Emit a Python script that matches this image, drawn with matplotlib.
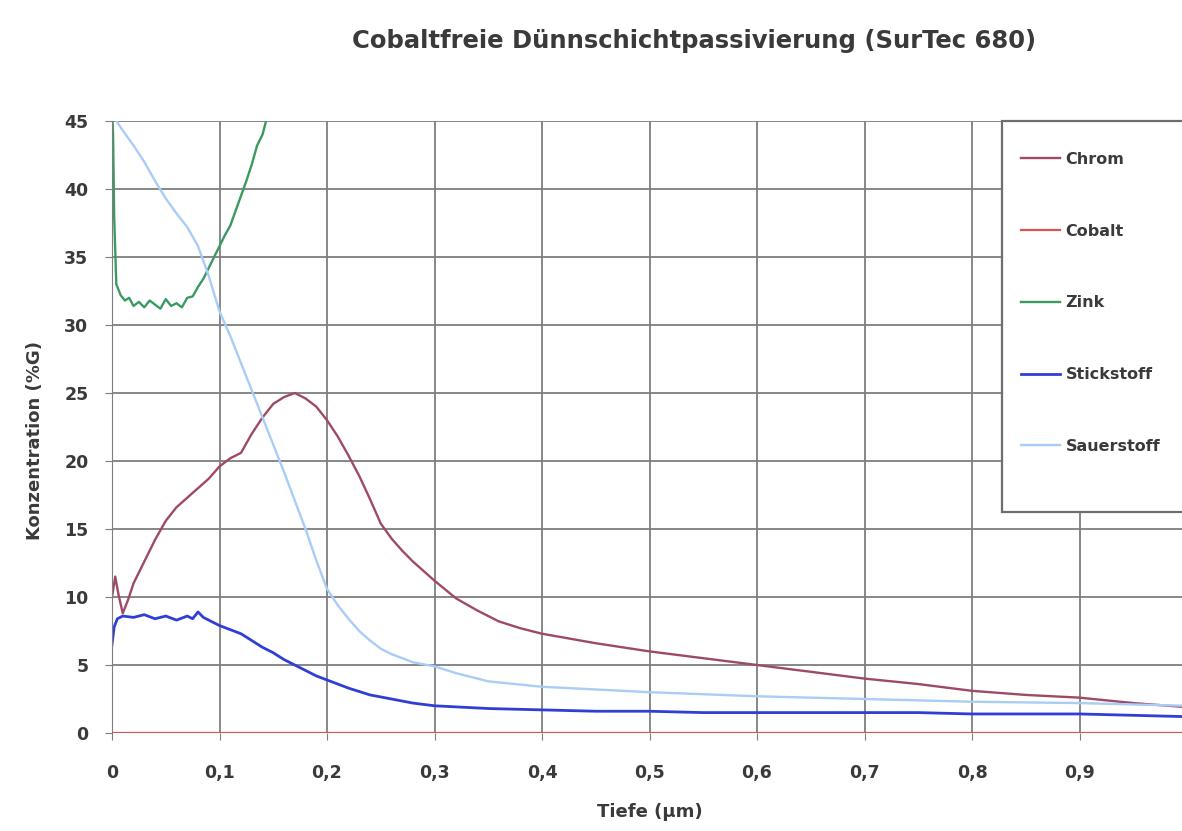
import matplotlib
matplotlib.use("Agg")
import matplotlib.pyplot as plt
from matplotlib.patches import Rectangle

# Tiefe (µm) / Konzentration
chrom_x = [0, 0.003, 0.006, 0.01, 0.015, 0.02, 0.03, 0.04, 0.05, 0.06, 0.07, 0.08, 0.09,
           0.1, 0.11, 0.12, 0.13, 0.14, 0.15, 0.16, 0.17, 0.18, 0.19, 0.2, 0.21, 0.22,
           0.23, 0.24, 0.25, 0.26, 0.27, 0.28, 0.3, 0.32, 0.34, 0.36, 0.38, 0.4, 0.45,
           0.5, 0.55, 0.6, 0.65, 0.7, 0.75, 0.8, 0.85, 0.9, 0.95, 1.0]
chrom_y = [10.0, 11.5, 10.2, 8.8, 9.8, 11.0, 12.6, 14.2, 15.6, 16.6, 17.3, 18.0, 18.7,
           19.6, 20.2, 20.6, 22.0, 23.2, 24.2, 24.7, 25.0, 24.6, 24.0, 23.0, 21.8, 20.4,
           18.9, 17.2, 15.4, 14.3, 13.4, 12.6, 11.2, 9.9, 9.0, 8.2, 7.7, 7.3, 6.6,
           6.0, 5.5, 5.0, 4.5, 4.0, 3.6, 3.1, 2.8, 2.6, 2.2, 1.9]

cobalt_x = [0, 0.25, 0.5, 0.75, 1.0]
cobalt_y = [0, 0, 0, 0, 0]

zink_x = [0, 0.001, 0.002, 0.004, 0.008, 0.012, 0.016, 0.02, 0.025, 0.03, 0.035, 0.04,
          0.045, 0.05, 0.055, 0.06, 0.065, 0.07, 0.075, 0.08, 0.085, 0.09, 0.095, 0.1,
          0.105, 0.11, 0.115, 0.12, 0.125, 0.13, 0.135, 0.14, 0.145, 0.15, 0.16]
zink_y = [46, 44, 38, 33.0, 32.2, 31.8, 32.0, 31.4, 31.7, 31.3, 31.8, 31.5,
          31.2, 31.9, 31.4, 31.6, 31.3, 32.0, 32.1, 32.8, 33.4, 34.2, 35.0, 35.8,
          36.6, 37.3, 38.4, 39.5, 40.6, 41.8, 43.2, 44.0, 45.5, 46.5, 48]

stick_x = [0, 0.002, 0.005, 0.01, 0.02, 0.03, 0.04, 0.05, 0.06, 0.07, 0.075, 0.08,
           0.085, 0.09, 0.1, 0.11, 0.12, 0.13, 0.14, 0.15, 0.16, 0.17, 0.18, 0.19, 0.2,
           0.22, 0.24, 0.26, 0.28, 0.3, 0.35, 0.4, 0.45, 0.5, 0.55, 0.6, 0.65, 0.7,
           0.75, 0.8, 0.85, 0.9, 0.95, 1.0]
stick_y = [6.5, 7.8, 8.4, 8.6, 8.5, 8.7, 8.4, 8.6, 8.3, 8.6, 8.4, 8.9,
           8.5, 8.3, 7.9, 7.6, 7.3, 6.8, 6.3, 5.9, 5.4, 5.0, 4.6, 4.2, 3.9,
           3.3, 2.8, 2.5, 2.2, 2.0, 1.8, 1.7, 1.6, 1.6, 1.5, 1.5, 1.5, 1.5,
           1.5, 1.4, 1.4, 1.4, 1.3, 1.2]

sauer_x = [0, 0.01, 0.02, 0.03, 0.04, 0.05, 0.06, 0.07, 0.08, 0.09, 0.1, 0.11, 0.12,
           0.13, 0.14, 0.15, 0.16, 0.17, 0.18, 0.19, 0.2, 0.21, 0.22, 0.23, 0.24, 0.25,
           0.26, 0.27, 0.28, 0.3, 0.32, 0.35, 0.4, 0.45, 0.5, 0.6, 0.7, 0.8, 0.9, 1.0]
sauer_y = [45.5, 44.3, 43.2, 42.0, 40.6, 39.3, 38.2, 37.2, 35.8, 33.6, 31.0, 29.2, 27.2,
           25.2, 23.2, 21.2, 19.2, 17.1, 15.0, 12.7, 10.6, 9.4, 8.4, 7.5, 6.8, 6.2,
           5.8, 5.5, 5.2, 4.9, 4.4, 3.8, 3.4, 3.2, 3.0, 2.7, 2.5, 2.3, 2.2, 2.0]

x_ticks = [0, 0.1, 0.2, 0.3, 0.4, 0.5, 0.6, 0.7, 0.8, 0.9, 1.0]
x_labels = ["0", "0,1", "0,2", "0,3", "0,4", "0,5", "0,6", "0,7", "0,8", "0,9", "1"]
y_ticks = [0, 5, 10, 15, 20, 25, 30, 35, 40, 45]

plt.rcParams["font.family"] = ["DejaVu Sans"]
TXT = "#3a3a3a"

W, H = 1182, 831
fig = plt.figure(figsize=(W / 100, H / 100), dpi=100)
ax = fig.add_axes([112 / W, 1 - 733 / H, 1075 / W, 612 / H])

ax.plot(chrom_x, chrom_y, color="#9e4a66", lw=1.7, label="Chrom")
ax.plot(cobalt_x, cobalt_y, color="#d9534f", lw=1.6, label="Cobalt")
ax.plot(zink_x, zink_y, color="#3a9a62", lw=1.7, label="Zink")
ax.plot(stick_x, stick_y, color="#2f3fd6", lw=2.0, label="Stickstoff")
ax.plot(sauer_x, sauer_y, color="#a9cdf5", lw=1.7, label="Sauerstoff")

ax.set_xlim(0, 1)
ax.set_ylim(0, 45)
ax.set_xticks(x_ticks)
ax.set_xticklabels(x_labels)
ax.set_yticks(y_ticks)
ax.grid(True, color="#7e7e7e", lw=1.3)
ax.set_axisbelow(True)
for side in ["top", "right", "bottom"]:
    ax.spines[side].set_visible(False)
ax.spines["left"].set_color("#7e7e7e")
ax.tick_params(axis="both", length=5, color="#7e7e7e", labelsize=12.5, labelcolor=TXT)
ax.tick_params(axis="x", pad=17)
ax.tick_params(axis="y", pad=12)
for lbl in ax.get_xticklabels() + ax.get_yticklabels():
    lbl.set_fontweight("bold")

fig.text(650 / W, 1 - 812 / H, "Tiefe (µm)", ha="center", va="center",
         fontsize=13, fontweight="bold", color=TXT)
fig.text(35 / W, 1 - 440 / H, "Konzentration (%G)", ha="center", va="center",
         rotation=90, fontsize=13, fontweight="bold", color=TXT)
fig.text(694 / W, 1 - 41 / H, "Cobaltfreie Dünnschichtpassivierung (SurTec 680)",
         ha="center", va="center", fontsize=17.5, fontweight="bold", color=TXT)

# legend box (Excel style, runs off the right edge)
box = Rectangle((1002 / W, 1 - 512 / H), 0.2, 391 / H, transform=fig.transFigure,
                facecolor="white", edgecolor="#6e6e6e", lw=1.6, clip_on=False, zorder=4)
ax.add_patch(box)

leg = ax.legend(loc="upper left", bbox_to_anchor=(1021 / W, 1 - 152 / H),
                bbox_transform=fig.transFigure, fontsize=11.5, labelspacing=3.55,
                borderpad=0, borderaxespad=0, handlelength=2.45, handletextpad=0.35,
                frameon=False)
leg.set_zorder(5)
for t in leg.get_texts():
    t.set_fontweight("bold")
    t.set_color(TXT)

fig.savefig("out.png", dpi=100)
